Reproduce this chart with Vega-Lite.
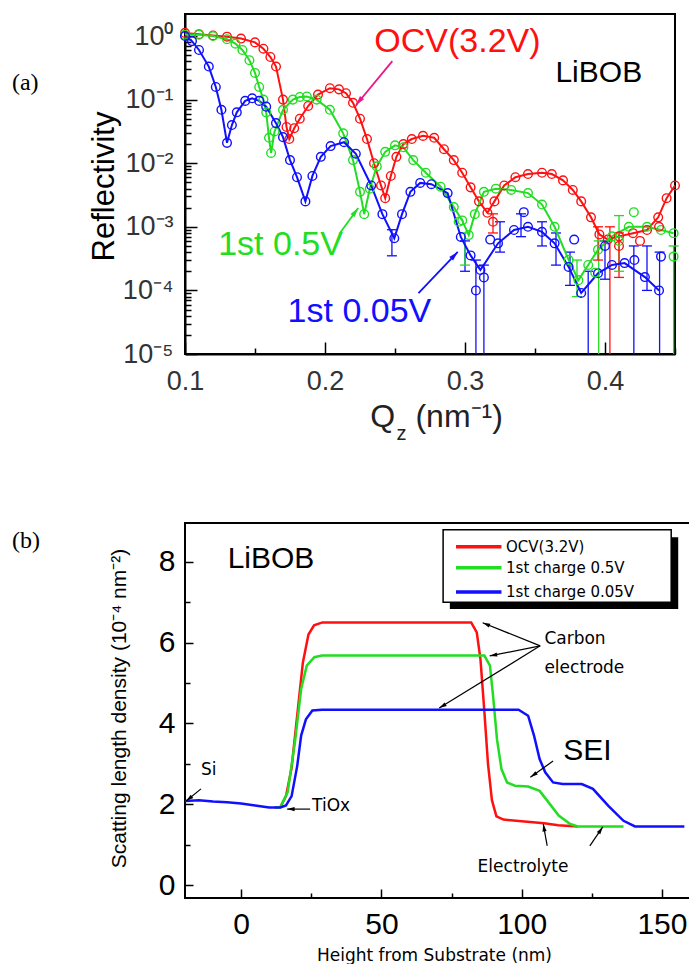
{
"$schema":"https://vega.github.io/schema/vega-lite/v6.json",
"padding":{"left":10,"top":13,"right":0,"bottom":0},
"bounds":"flush",
"spacing":169,
"config":{
 "view":{"stroke":"black","strokeWidth":2},
 "axis":{"grid":false,"domain":false,"tickColor":"black","tickWidth":1.5,"labelFlush":false,"labelOverlap":false,"labelBound":false,"titleFontWeight":"normal","titleColor":"black","labelFont":"Liberation Sans","titleFont":"Liberation Sans"},
 "text":{"font":"Liberation Sans"}
},
"datasets":{
 "fit":[
  {"s":"ocv","q":0.100,"R":1.12},{"s":"ocv","q":0.110,"R":1.07},{"s":"ocv","q":0.120,"R":1.02},{"s":"ocv","q":0.130,"R":0.977},{"s":"ocv","q":0.140,"R":0.912},{"s":"ocv","q":0.150,"R":0.794},{"s":"ocv","q":0.156,"R":0.631},{"s":"ocv","q":0.161,"R":0.468},{"s":"ocv","q":0.165,"R":0.331},{"s":"ocv","q":0.170,"R":0.1},{"s":"ocv","q":0.1725,"R":0.0372},{"s":"ocv","q":0.1745,"R":0.024},{"s":"ocv","q":0.178,"R":0.0355},{"s":"ocv","q":0.182,"R":0.0501},{"s":"ocv","q":0.188,"R":0.0794},{"s":"ocv","q":0.195,"R":0.12},{"s":"ocv","q":0.2035,"R":0.151},{"s":"ocv","q":0.210,"R":0.145},{"s":"ocv","q":0.215,"R":0.126},{"s":"ocv","q":0.220,"R":0.0891},{"s":"ocv","q":0.225,"R":0.0501},{"s":"ocv","q":0.230,"R":0.024},{"s":"ocv","q":0.235,"R":0.01},{"s":"ocv","q":0.240,"R":0.00447},{"s":"ocv","q":0.243,"R":0.00282},{"s":"ocv","q":0.247,"R":0.00631},{"s":"ocv","q":0.251,"R":0.0126},{"s":"ocv","q":0.256,"R":0.02},{"s":"ocv","q":0.262,"R":0.024},{"s":"ocv","q":0.270,"R":0.0269},{"s":"ocv","q":0.278,"R":0.0251},{"s":"ocv","q":0.285,"R":0.0166},{"s":"ocv","q":0.292,"R":0.0112},{"s":"ocv","q":0.298,"R":0.00708},{"s":"ocv","q":0.304,"R":0.00417},{"s":"ocv","q":0.310,"R":0.00251},{"s":"ocv","q":0.316,"R":0.00166},{"s":"ocv","q":0.321,"R":0.00251},{"s":"ocv","q":0.328,"R":0.00447},{"s":"ocv","q":0.336,"R":0.00603},{"s":"ocv","q":0.345,"R":0.00676},{"s":"ocv","q":0.355,"R":0.00708},{"s":"ocv","q":0.362,"R":0.00676},{"s":"ocv","q":0.370,"R":0.00537},{"s":"ocv","q":0.377,"R":0.0038},{"s":"ocv","q":0.383,"R":0.00251},{"s":"ocv","q":0.390,"R":0.00141},{"s":"ocv","q":0.396,"R":0.000759},{"s":"ocv","q":0.402,"R":0.000631},{"s":"ocv","q":0.410,"R":0.000708},{"s":"ocv","q":0.420,"R":0.000794},{"s":"ocv","q":0.430,"R":0.000891},{"s":"ocv","q":0.438,"R":0.00141},{"s":"ocv","q":0.444,"R":0.00282},{"s":"ocv","q":0.450,"R":0.00447},
  {"s":"v05","q":0.100,"R":1.05},{"s":"v05","q":0.110,"R":1.05},{"s":"v05","q":0.120,"R":1.0},{"s":"v05","q":0.130,"R":0.891},{"s":"v05","q":0.136,"R":0.759},{"s":"v05","q":0.141,"R":0.603},{"s":"v05","q":0.146,"R":0.417},{"s":"v05","q":0.150,"R":0.263},{"s":"v05","q":0.153,"R":0.158},{"s":"v05","q":0.156,"R":0.1},{"s":"v05","q":0.158,"R":0.0631},{"s":"v05","q":0.160,"R":0.0251},{"s":"v05","q":0.1615,"R":0.0145},{"s":"v05","q":0.164,"R":0.0316},{"s":"v05","q":0.170,"R":0.0692},{"s":"v05","q":0.177,"R":0.1},{"s":"v05","q":0.182,"R":0.11},{"s":"v05","q":0.187,"R":0.112},{"s":"v05","q":0.194,"R":0.1},{"s":"v05","q":0.2035,"R":0.0692},{"s":"v05","q":0.213,"R":0.0295},{"s":"v05","q":0.220,"R":0.0112},{"s":"v05","q":0.225,"R":0.00355},{"s":"v05","q":0.228,"R":0.00158},{"s":"v05","q":0.232,"R":0.00398},{"s":"v05","q":0.237,"R":0.00891},{"s":"v05","q":0.243,"R":0.0151},{"s":"v05","q":0.250,"R":0.0191},{"s":"v05","q":0.256,"R":0.0178},{"s":"v05","q":0.263,"R":0.0112},{"s":"v05","q":0.272,"R":0.00708},{"s":"v05","q":0.2826,"R":0.00427},{"s":"v05","q":0.292,"R":0.00204},{"s":"v05","q":0.298,"R":0.00126},{"s":"v05","q":0.3027,"R":0.000741},{"s":"v05","q":0.307,"R":0.00158},{"s":"v05","q":0.3135,"R":0.00355},{"s":"v05","q":0.322,"R":0.00398},{"s":"v05","q":0.333,"R":0.0038},{"s":"v05","q":0.345,"R":0.00339},{"s":"v05","q":0.355,"R":0.00224},{"s":"v05","q":0.364,"R":0.001},{"s":"v05","q":0.374,"R":0.000302},{"s":"v05","q":0.381,"R":0.000145},{"s":"v05","q":0.388,"R":0.000251},{"s":"v05","q":0.395,"R":0.000437},{"s":"v05","q":0.405,"R":0.000708},{"s":"v05","q":0.417,"R":0.001},{"s":"v05","q":0.430,"R":0.001},{"s":"v05","q":0.440,"R":0.000891},{"s":"v05","q":0.449,"R":0.000794},
  {"s":"v005","q":0.100,"R":1.0},{"s":"v005","q":0.105,"R":0.832},{"s":"v005","q":0.110,"R":0.603},{"s":"v005","q":0.117,"R":0.331},{"s":"v005","q":0.122,"R":0.158},{"s":"v005","q":0.126,"R":0.0692},{"s":"v005","q":0.130,"R":0.0209},{"s":"v005","q":0.1335,"R":0.0398},{"s":"v005","q":0.137,"R":0.0631},{"s":"v005","q":0.143,"R":0.0955},{"s":"v005","q":0.148,"R":0.105},{"s":"v005","q":0.153,"R":0.0955},{"s":"v005","q":0.158,"R":0.0776},{"s":"v005","q":0.165,"R":0.0427},{"s":"v005","q":0.170,"R":0.0257},{"s":"v005","q":0.175,"R":0.0112},{"s":"v005","q":0.180,"R":0.00603},{"s":"v005","q":0.186,"R":0.00251},{"s":"v005","q":0.191,"R":0.00631},{"s":"v005","q":0.197,"R":0.0126},{"s":"v005","q":0.204,"R":0.0186},{"s":"v005","q":0.2136,"R":0.0214},{"s":"v005","q":0.222,"R":0.0141},{"s":"v005","q":0.233,"R":0.00447},{"s":"v005","q":0.241,"R":0.00158},{"s":"v005","q":0.2495,"R":0.000661},{"s":"v005","q":0.255,"R":0.00158},{"s":"v005","q":0.261,"R":0.00355},{"s":"v005","q":0.268,"R":0.0049},{"s":"v005","q":0.276,"R":0.00468},{"s":"v005","q":0.2876,"R":0.00339},{"s":"v005","q":0.297,"R":0.000692},{"s":"v005","q":0.304,"R":0.000355},{"s":"v005","q":0.311,"R":0.000209},{"s":"v005","q":0.3236,"R":0.00055},{"s":"v005","q":0.335,"R":0.000891},{"s":"v005","q":0.345,"R":0.001},{"s":"v005","q":0.355,"R":0.000832},{"s":"v005","q":0.364,"R":0.00055},{"s":"v005","q":0.374,"R":0.000234},{"s":"v005","q":0.383,"R":0.0000912},{"s":"v005","q":0.395,"R":0.000186},{"s":"v005","q":0.405,"R":0.000251},{"s":"v005","q":0.414,"R":0.000269},{"s":"v005","q":0.4285,"R":0.000162},{"s":"v005","q":0.4386,"R":0.0001}
 ],
 "eb":[
  {"s":"v005","q":0.2478,"R":0.00035,"R2":0.0009},{"s":"v005","q":0.300,"R":0.0002,"R2":0.0006},{"s":"v005","q":0.3078,"R":0.00001,"R2":0.0003},{"s":"v005","q":0.3135,"R":0.00001,"R2":0.00025},{"s":"v005","q":0.325,"R":0.0004,"R2":0.0012},{"s":"v005","q":0.340,"R":0.0007,"R2":0.0016},{"s":"v005","q":0.355,"R":0.0005,"R2":0.0012},{"s":"v005","q":0.365,"R":0.00025,"R2":0.0008},{"s":"v005","q":0.375,"R":0.00012,"R2":0.0004},{"s":"v005","q":0.388,"R":0.00001,"R2":0.0002},{"s":"v005","q":0.400,"R":0.00015,"R2":0.0006},{"s":"v005","q":0.4206,"R":0.00001,"R2":0.0005},{"s":"v005","q":0.430,"R":0.0001,"R2":0.0005},{"s":"v005","q":0.439,"R":0.00001,"R2":0.0004},
  {"s":"v05","q":0.300,"R":0.00025,"R2":0.0008},{"s":"v05","q":0.380,"R":0.00008,"R2":0.0003},{"s":"v05","q":0.3955,"R":0.00001,"R2":0.0006},{"s":"v05","q":0.410,"R":0.0002,"R2":0.0015},{"s":"v05","q":0.449,"R":0.00001,"R2":0.0005},
  {"s":"ocv","q":0.320,"R":0.0008,"R2":0.0016},{"s":"ocv","q":0.395,"R":0.0003,"R2":0.001},{"s":"ocv","q":0.4035,"R":0.00001,"R2":0.001},{"s":"ocv","q":0.410,"R":0.00016,"R2":0.0008}
 ],
 "xp":[
  {"s":"v005","q":0.3078,"R":0.0001},{"s":"v005","q":0.3135,"R":0.00016},{"s":"v005","q":0.318,"R":0.00063},{"s":"v005","q":0.342,"R":0.0017},{"s":"v005","q":0.378,"R":0.00063},{"s":"v005","q":0.400,"R":0.0005},{"s":"v005","q":0.421,"R":0.0003},{"s":"v005","q":0.440,"R":0.00034},
  {"s":"v05","q":0.2955,"R":0.0012},{"s":"v05","q":0.393,"R":0.00019},{"s":"v05","q":0.410,"R":0.0006},{"s":"v05","q":0.4206,"R":0.0017},{"s":"v05","q":0.449,"R":0.00034},
  {"s":"ocv","q":0.320,"R":0.0012},{"s":"ocv","q":0.410,"R":0.0005},{"s":"ocv","q":0.425,"R":0.0006},{"s":"ocv","q":0.4386,"R":0.001}
 ],
 "sld":[
  {"s":"ocv","h":12,"v":1.92},{"s":"ocv","h":14,"v":1.93},{"s":"ocv","h":16,"v":2.2},{"s":"ocv","h":18,"v":2.9},{"s":"ocv","h":20,"v":4.2},{"s":"ocv","h":22,"v":5.5},{"s":"ocv","h":24,"v":6.2},{"s":"ocv","h":26,"v":6.43},{"s":"ocv","h":29,"v":6.5},{"s":"ocv","h":50,"v":6.5},{"s":"ocv","h":82,"v":6.5},{"s":"ocv","h":84,"v":6.25},{"s":"ocv","h":85.3,"v":5.6},{"s":"ocv","h":86.7,"v":4.3},{"s":"ocv","h":88,"v":3.0},{"s":"ocv","h":89.4,"v":2.1},{"s":"ocv","h":91,"v":1.7},{"s":"ocv","h":93.5,"v":1.62},{"s":"ocv","h":100,"v":1.58},{"s":"ocv","h":108,"v":1.53},{"s":"ocv","h":113,"v":1.48},{"s":"ocv","h":120,"v":1.45},
  {"s":"v05","h":12,"v":1.92},{"s":"v05","h":14,"v":1.93},{"s":"v05","h":16.6,"v":2.3},{"s":"v05","h":19.3,"v":3.6},{"s":"v05","h":21.4,"v":4.85},{"s":"v05","h":23.4,"v":5.43},{"s":"v05","h":26.1,"v":5.64},{"s":"v05","h":28.8,"v":5.68},{"s":"v05","h":60,"v":5.68},{"s":"v05","h":86.7,"v":5.68},{"s":"v05","h":88.7,"v":5.43},{"s":"v05","h":89.8,"v":4.69},{"s":"v05","h":91.2,"v":3.61},{"s":"v05","h":92.8,"v":2.87},{"s":"v05","h":94.8,"v":2.54},{"s":"v05","h":97.6,"v":2.46},{"s":"v05","h":102.3,"v":2.44},{"s":"v05","h":106.4,"v":2.33},{"s":"v05","h":109.1,"v":2.09},{"s":"v05","h":113.2,"v":1.72},{"s":"v05","h":117.3,"v":1.51},{"s":"v05","h":120,"v":1.45},{"s":"v05","h":136.3,"v":1.45},
  {"s":"v005","h":-20,"v":2.08},{"s":"v005","h":-15,"v":2.1},{"s":"v005","h":-10,"v":2.07},{"s":"v005","h":-5,"v":2.05},{"s":"v005","h":0,"v":2.02},{"s":"v005","h":5,"v":1.97},{"s":"v005","h":10,"v":1.92},{"s":"v005","h":14,"v":1.92},{"s":"v005","h":16,"v":1.97},{"s":"v005","h":18,"v":2.2},{"s":"v005","h":20,"v":2.95},{"s":"v005","h":21.4,"v":3.7},{"s":"v005","h":23.1,"v":4.1},{"s":"v005","h":25.4,"v":4.32},{"s":"v005","h":28.8,"v":4.34},{"s":"v005","h":60,"v":4.34},{"s":"v005","h":98.9,"v":4.34},{"s":"v005","h":102.3,"v":4.19},{"s":"v005","h":104.4,"v":3.7},{"s":"v005","h":106.4,"v":3.12},{"s":"v005","h":108.4,"v":2.79},{"s":"v005","h":111.2,"v":2.54},{"s":"v005","h":114.6,"v":2.5},{"s":"v005","h":121.4,"v":2.5},{"s":"v005","h":125.4,"v":2.38},{"s":"v005","h":130.9,"v":1.96},{"s":"v005","h":136.3,"v":1.59},{"s":"v005","h":140.4,"v":1.45},{"s":"v005","h":158,"v":1.45}
 ],
 "leg":[
  {"s":"ocv","t":"OCV(3.2V)","h":76.6,"h2":92.8,"v":8.37},
  {"s":"v05","t":"1st charge 0.5V","h":76.6,"h2":92.8,"v":7.85},
  {"s":"v005","t":"1st charge 0.05V","h":76.6,"h2":92.8,"v":7.25}
 ],
 "arrA":[
  {"s":"mag","q":0.2222,"R":0.0822,"q2":0.2481,"R2":0.404,"ang":219},
  {"s":"v05","q":0.2237,"R":0.00198,"q2":0.2107,"R2":0.0008,"ang":36},
  {"s":"v005","q":0.2948,"R":0.000402,"q2":0.2668,"R2":0.000091,"ang":44}
 ],
 "arrB":[
  {"s":"blk","h":86.1,"v":6.49,"h2":106.6,"v2":5.92,"ang":292},
  {"s":"blk","h":88.6,"v":5.67,"h2":106.6,"v2":5.92,"ang":259},
  {"s":"blk","h":70.6,"v":4.38,"h2":106.6,"v2":5.92,"ang":239},
  {"s":"blk","h":103.1,"v":2.67,"h2":111.2,"v2":3.07,"ang":235},
  {"s":"blk","h":-19.6,"v":2.08,"h2":-14.3,"v2":2.38,"ang":231},
  {"s":"blk","h":16.4,"v":1.88,"h2":24.6,"v2":1.88,"ang":270},
  {"s":"blk","h":107.7,"v":1.51,"h2":109.1,"v2":0.97,"ang":350},
  {"s":"blk","h":128.9,"v":1.44,"h2":124.3,"v2":0.97,"ang":34}
 ]
},
"vconcat":[
 {
  "width":490,"height":340,
  "view":{"stroke":"black","strokeWidth":2},
  "encoding":{
   "x":{"field":"q","type":"quantitative","scale":{"domain":[0.1,0.45],"nice":false,"zero":false},
        "axis":{"title":null,"values":[0.1,0.15,0.2,0.25,0.3,0.35,0.4,0.45],
                "domain":true,"domainColor":"black","domainWidth":2,
                "labelExpr":"abs(datum.value*10-round(datum.value*10))<0.01 && datum.value<0.44 ? format(datum.value,'.1f') : ''",
                "tickSize":{"expr":"abs(datum.value*10-round(datum.value*10))<0.01 ? -12 : -6"},
                "labelFontSize":27,"labelColor":"#333333","labelPadding":26}},
   "y":{"field":"R","type":"quantitative","scale":{"type":"log","domain":[0.00001,2.22],"nice":false},
        "axis":{"title":"Reflectivity","values":[0.00001,0.00002,0.00003,0.00004,0.00005,0.00006,0.00007,0.00008,0.00009,0.0001,0.0002,0.0003,0.0004,0.0005,0.0006,0.0007,0.0008,0.0009,0.001,0.002,0.003,0.004,0.005,0.006,0.007,0.008,0.009,0.01,0.02,0.03,0.04,0.05,0.06,0.07,0.08,0.09,0.1,0.2,0.3,0.4,0.5,0.6,0.7,0.8,0.9,1],
                "domain":true,"domainColor":"black","domainWidth":2,
                "labelExpr":"abs(log(datum.value)/LN10-round(log(datum.value)/LN10))>0.01 ? '' : ['10⁰','10⁻¹','10⁻²','10⁻³','10⁻⁴','10⁻⁵'][-round(log(datum.value)/LN10)]",
                "tickSize":{"expr":"abs(log(datum.value)/LN10-round(log(datum.value)/LN10))<0.01 ? -12 : -6"},
                "labelFontSize":27,"labelColor":"#333333","labelPadding":24,
                "titleFontSize":31,"titleX":-81,"titleY":172,"titleAngle":-90,"titleAlign":"center","titleBaseline":"middle"}},
   "color":{"field":"s","type":"nominal","scale":{"domain":["ocv","v05","v005","mag","blk"],"range":["#ff1010","#22dd22","#1010ff","#e8178a","#000000"]},"legend":null}
  },
  "layer":[
   {"data":{"name":"eb"},"mark":{"type":"rule","strokeWidth":1.3},"encoding":{"y2":{"field":"R2"}}},
   {"data":{"name":"eb"},"transform":[{"fold":["R","R2"],"as":["k","R"]},{"filter":"datum.R > 0.0000105"}],"mark":{"type":"tick","orient":"horizontal","size":10,"thickness":1.3,"opacity":1}},
   {"data":{"name":"fit"},"mark":{"type":"line","strokeWidth":2}},
   {"data":{"name":"fit"},"mark":{"type":"point","shape":"circle","filled":false,"size":75,"strokeWidth":1.4,"opacity":1}},
   {"data":{"name":"xp"},"mark":{"type":"point","shape":"circle","filled":false,"size":75,"strokeWidth":1.4,"opacity":1}},
   {"data":{"values":[{"s":"ocv","t":"OCV(3.2V)","q":0.2352,"R":0.805},{"s":"v05","t":"1st 0.5V","q":0.1237,"R":0.00052},{"s":"v005","t":"1st 0.05V","q":0.1733,"R":0.0000457}]},
    "mark":{"type":"text","align":"left","baseline":"middle","fontSize":34},"encoding":{"text":{"field":"t"}}},
   {"data":{"values":[{"t":"LiBOB","q":0.3646,"R":0.262}]},"mark":{"type":"text","align":"left","baseline":"middle","fontSize":30},"encoding":{"text":{"field":"t"},"color":{"value":"black"}}},
   {"data":{"values":[{"t":"(a)","q":-0.0236,"R":0.182}]},"mark":{"type":"text","align":"left","baseline":"middle","font":"Liberation Serif","fontSize":24},"encoding":{"text":{"field":"t"},"color":{"value":"black"}}},
   {"data":{"values":[{"t":"Q","q":0.2323,"R":0.00000102},{"t":"(nm⁻¹)","q":0.2646,"R":0.00000102}]},"mark":{"type":"text","align":"left","baseline":"middle","fontSize":32},"encoding":{"text":{"field":"t"},"color":{"value":"#222222"}}},
   {"data":{"values":[{"t":"z","q":0.251,"R":0.00000055}]},"mark":{"type":"text","align":"left","baseline":"middle","fontSize":20},"encoding":{"text":{"field":"t"},"color":{"value":"#222222"}}},
   {"data":{"name":"arrA"},"mark":{"type":"rule","strokeWidth":1.8},"encoding":{"x2":{"field":"q2"},"y2":{"field":"R2"}}},
   {"data":{"name":"arrA"},"mark":{"type":"point","shape":"M0,0L0.5,1.8L-0.5,1.8Z","filled":true,"size":110,"strokeWidth":0,"opacity":1},"encoding":{"angle":{"field":"ang","type":"quantitative","scale":null}}}
  ]
 },
 {
  "width":505,"height":375,
  "view":{"stroke":"black","strokeWidth":2},
  "encoding":{
   "x":{"field":"h","type":"quantitative","scale":{"domain":[-20,160],"nice":false,"zero":false},
        "axis":{"title":"Height from Substrate (nm)","values":[0,25,50,75,100,125,150],
                "labelExpr":"datum.value % 50 == 0 ? datum.label : ''",
                "tickSize":{"expr":"datum.value % 50 == 0 ? -9 : -5"},
                "labelFontSize":30,"labelColor":"black","labelPadding":20,
                "titleFont":"DejaVu Sans","titleFontSize":17,"titleX":249,"titleY":57,"titleAlign":"center","titleBaseline":"middle"}},
   "y":{"field":"v","type":"quantitative","scale":{"domain":[-0.32,8.96],"nice":false,"zero":false},
        "axis":{"title":"Scatting length density (10⁻⁴ nm⁻²)","values":[0,1,2,3,4,5,6,7,8],
                "labelExpr":"datum.value % 2 == 0 ? datum.label : ''",
                "tickSize":{"expr":"datum.value % 2 == 0 ? -8 : -5"},
                "labelFontSize":30,"labelColor":"black","labelPadding":18,
                "titleFontSize":21,"titleX":-66,"titleY":185,"titleAngle":-90,"titleAlign":"center","titleBaseline":"middle"}},
   "color":{"field":"s","type":"nominal","scale":{"domain":["ocv","v05","v005","mag","blk"],"range":["#ff1010","#22dd22","#1010ff","#e8178a","#000000"]},"legend":null}
  },
  "layer":[
   {"data":{"values":[{"h":74.4,"h2":155.8,"v":8.61,"v2":6.83}]},"mark":{"type":"rect"},"encoding":{"x2":{"field":"h2"},"y2":{"field":"v2"},"color":{"value":"black"}}},
   {"data":{"values":[{"h":72.0,"h2":153.3,"v":8.79,"v2":7.0}]},"mark":{"type":"rect","stroke":"black","strokeWidth":1.5},"encoding":{"x2":{"field":"h2"},"y2":{"field":"v2"},"color":{"value":"white"}}},
   {"data":{"name":"sld"},"mark":{"type":"line","strokeWidth":2.5}},
   {"data":{"name":"leg"},"mark":{"type":"rule","strokeWidth":3.5},"encoding":{"x2":{"field":"h2"}}},
   {"data":{"name":"leg"},"mark":{"type":"text","align":"left","baseline":"middle","font":"DejaVu Sans","fontSize":15,"dx":50},
    "encoding":{"text":{"field":"t"},"color":{"value":"black"}}},
   {"data":{"values":[{"t":"LiBOB","h":-4.8,"v":8.07},{"t":"SEI","h":114.8,"v":3.32}]},"mark":{"type":"text","align":"left","baseline":"middle","fontSize":30},"encoding":{"text":{"field":"t"},"color":{"value":"black"}}},
   {"data":{"values":[{"t":"Carbon","h":108.1,"v":6.09},{"t":"electrode","h":108.1,"v":5.37},{"t":"Si","h":-14.3,"v":2.85},{"t":"TiOx","h":25.3,"v":1.96},{"t":"Electrolyte","h":84.3,"v":0.45}]},"mark":{"type":"text","align":"left","baseline":"middle","font":"DejaVu Sans","fontSize":17},"encoding":{"text":{"field":"t"},"color":{"value":"black"}}},
   {"data":{"values":[{"t":"(b)","h":-81.65,"v":8.51}]},"mark":{"type":"text","align":"left","baseline":"middle","font":"Liberation Serif","fontSize":24},"encoding":{"text":{"field":"t"},"color":{"value":"black"}}},
   {"data":{"name":"arrB"},"mark":{"type":"rule","strokeWidth":1.2},"encoding":{"x2":{"field":"h2"},"y2":{"field":"v2"}}},
   {"data":{"name":"arrB"},"mark":{"type":"point","shape":"M0,0L0.5,1.8L-0.5,1.8Z","filled":true,"size":70,"strokeWidth":0,"opacity":1},"encoding":{"angle":{"field":"ang","type":"quantitative","scale":null}}}
  ]
 }
]
}
